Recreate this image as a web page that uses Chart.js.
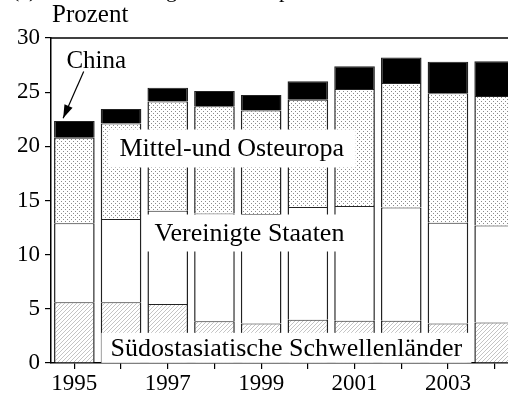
<!DOCTYPE html>
<html>
<head>
<meta charset="utf-8">
<script src="https://cdn.jsdelivr.net/npm/chart.js@4/dist/chart.umd.min.js"></script>
<style>
  html, body { margin: 0; padding: 0; background: #fff; overflow: hidden; }
  #wrap { width: 508px; height: 401px; overflow: hidden; }
</style>
</head>
<body>
<div id="wrap"><canvas id="importChart" width="518" height="401"></canvas></div>
<script>
// years on the x axis
var years = ["1995", "1996", "1997", "1998", "1999", "2000", "2001", "2002", "2003", "2004"];
// segment shares, in Prozent (stacked bottom to top)
var suedostasien = [5.6, 5.6, 5.45, 3.85, 3.65, 4.0, 3.9, 3.9, 3.65, 3.75];
var usa = [7.3, 7.7, 8.6, 9.95, 10.1, 10.4, 10.6, 10.45, 9.3, 8.95];
var mittelOst = [7.9, 8.8, 10.1, 9.9, 9.55, 9.9, 10.8, 11.5, 11.95, 11.95];
var china = [1.55, 1.35, 1.25, 1.4, 1.45, 1.7, 2.1, 2.35, 2.9, 3.2];
var yTicks = [0, 5, 10, 15, 20, 25, 30];

var serif = "'Liberation Serif', 'DejaVu Serif', serif";

function hatchPattern() {
  var c = document.createElement("canvas");
  c.width = 4; c.height = 4;
  var g = c.getContext("2d");
  g.fillStyle = "#fff";
  g.fillRect(0, 0, 4, 4);
  g.strokeStyle = "#ababab";
  g.lineWidth = 0.7;
  g.beginPath();
  g.moveTo(0, 4); g.lineTo(4, 0);
  g.moveTo(-1, 1); g.lineTo(1, -1);
  g.moveTo(3, 5); g.lineTo(5, 3);
  g.stroke();
  return g.createPattern(c, "repeat");
}

function dotPattern() {
  var c = document.createElement("canvas");
  c.width = 4; c.height = 4;
  var g = c.getContext("2d");
  g.fillStyle = "#fff";
  g.fillRect(0, 0, 4, 4);
  g.fillStyle = "#8a8a8a";
  [[1, 1], [3, 3]].forEach(function (p) {
    g.fillRect(p[0], p[1], 1, 1);
  });
  return g.createPattern(c, "repeat");
}

// labels written into the chart, placed by axis values
var notes = [
  { text: "Mittel-und Osteuropa", xi: 3.37, yv: 19.8, w: 248, h: 38 },
  { text: "Vereinigte Staaten", xi: 3.75, yv: 12.0, w: 206, h: 37 },
  { text: "Südostasiatische Schwellenländer", xi: 4.54, yv: 1.4, w: 370, h: 30 }
];

var decorPlugin = {
  id: "decor",
  afterDatasetsDraw: function (chart) {
    var ctx = chart.ctx;
    var xs = chart.scales.x, ys = chart.scales.y;
    var area = chart.chartArea;
    ctx.save();
    // frame line on top
    ctx.strokeStyle = "#000";
    ctx.lineWidth = 1.5;
    ctx.beginPath();
    ctx.moveTo(area.left, area.top);
    ctx.lineTo(chart.width, area.top);
    ctx.stroke();

    ctx.font = "26px " + serif;
    ctx.textAlign = "center";
    ctx.textBaseline = "middle";
    notes.forEach(function (n) {
      var cx = xs.getPixelForValue(n.xi);
      var cy = ys.getPixelForValue(n.yv);
      ctx.fillStyle = "#fff";
      ctx.fillRect(cx - n.w / 2, cy - n.h / 2, n.w, n.h);
      ctx.fillStyle = "#000";
      ctx.fillText(n.text, cx, cy + 1);
    });

    // China label and arrow
    ctx.font = "25px " + serif;
    var tx = xs.getPixelForValue(0.47), ty = ys.getPixelForValue(27.8);
    ctx.fillText("China", tx, ty);
    var ax = xs.getPixelForValue(0.2), ay = ys.getPixelForValue(26.9);
    var bx = xs.getPixelForValue(-0.24), by = ys.getPixelForValue(22.6);
    ctx.lineWidth = 1.2;
    ctx.beginPath();
    ctx.moveTo(ax, ay);
    ctx.lineTo(bx, by);
    ctx.stroke();
    var ang = Math.atan2(by - ay, bx - ax);
    ctx.beginPath();
    ctx.moveTo(bx, by);
    ctx.lineTo(bx - 14 * Math.cos(ang - 0.32), by - 14 * Math.sin(ang - 0.32));
    ctx.lineTo(bx - 14 * Math.cos(ang + 0.32), by - 14 * Math.sin(ang + 0.32));
    ctx.closePath();
    ctx.fill();

    // axis caption and clipped panel heading
    ctx.textAlign = "left";
    ctx.fillText("Prozent", 52, 15);
    ctx.textBaseline = "alphabetic";
    ctx.font = "22px " + serif;
    ctx.fillText("(a) Anteil an den gesamten Importen", 12, -3);
    ctx.restore();
  }
};

var ctx = document.getElementById("importChart").getContext("2d");
var edge = { top: 1, left: 1.5, right: 1.5, bottom: 0 };

var importChart = new Chart(ctx, {
  type: "bar",
  data: {
    labels: years,
    datasets: [
      { label: "Südostasiatische Schwellenländer", data: suedostasien, backgroundColor: hatchPattern() },
      { label: "Vereinigte Staaten", data: usa, backgroundColor: "#fff" },
      { label: "Mittel-und Osteuropa", data: mittelOst, backgroundColor: dotPattern() },
      { label: "China", data: china, backgroundColor: "#000" }
    ].map(function (d) {
      d.borderColor = "#222";
      d.borderWidth = edge;
      d.borderSkipped = false;
      d.barPercentage = 0.87;
      d.categoryPercentage = 1;
      return d;
    })
  },
  options: {
    responsive: false,
    animation: false,
    layout: { padding: { top: 38, left: 0, right: 0, bottom: 0 } },
    plugins: { legend: { display: false }, tooltip: { enabled: false } },
    scales: {
      x: {
        stacked: true,
        afterFit: function (s) { s.height = 38; },
        grid: { offset: false, drawOnChartArea: false, tickLength: 6, color: "#000", lineWidth: 1.2 },
        border: { display: true, color: "#000", width: 1.5 },
        ticks: {
          color: "#000",
          font: { family: serif, size: 23 },
          padding: 1,
          maxRotation: 0,
          autoSkip: false,
          callback: function (v, i) { return i % 2 === 0 ? years[i] : ""; }
        }
      },
      y: {
        stacked: true,
        min: yTicks[0],
        max: yTicks[yTicks.length - 1],
        afterFit: function (s) { s.width = 51; },
        afterBuildTicks: function (s) { s.ticks = yTicks.map(function (v) { return { value: v }; }); },
        grid: { drawOnChartArea: false, tickLength: 6, color: "#000", lineWidth: 1.2 },
        border: { display: true, color: "#000", width: 1.5 },
        ticks: { color: "#000", font: { family: serif, size: 23 }, padding: 5 }
      }
    }
  },
  plugins: [decorPlugin]
});
</script>
</body>
</html>
